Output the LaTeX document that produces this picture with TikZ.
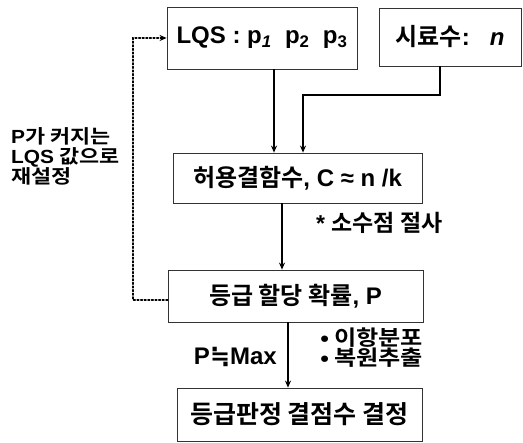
\documentclass[tikz,border=0pt]{standalone}
\usepackage{fontspec}
\setmainfont{Liberation Sans}[BoldFont={Liberation Sans Bold},BoldItalicFont={Liberation Sans Bold Italic}]
\newfontfamily\kr{Noto Sans CJK KR}[BoldFont={Noto Sans CJK KR Bold}]
\newfontfamily\krw{Noto Sans CJK KR}[BoldFont={Noto Sans CJK KR Bold},FakeStretch=1.15]
\newfontfamily\latw{Liberation Sans}[BoldFont={Liberation Sans Bold},FakeStretch=1.1]
\newfontfamily\symf{DejaVu Sans}[BoldFont={DejaVu Sans Bold}]
\usetikzlibrary{arrows.meta}
\tikzset{
  box/.style={draw=black!80, line width=0.8pt, rectangle, inner sep=0pt, font=\bfseries\fontsize{24}{26}\selectfont},
  flow/.style={line width=1.6pt, -{Stealth[length=7pt,width=6pt]}},
  loop/.style={line width=1.6pt, dotted, line cap=round, -{Stealth[length=7pt,width=6pt]}},
  note/.style={font=\bfseries\fontsize{19}{20}\selectfont, inner sep=0pt},
}
\begin{document}
\begin{tikzpicture}[x=1pt,y=-1pt]
\useasboundingbox (0,0) rectangle (523,443);
\node[box, minimum width=190pt, minimum height=62pt] (lqs) at (262,38)
  {LQS : p\textsubscript{\textit{1}}\ \ p\textsubscript{2}\ \ p\textsubscript{3}};
\node[box, minimum width=142pt, minimum height=58pt] (n) at (450,37)
  {{\kr\bfseries 시료수}:\ \ \ \textit{n}};
\node[box, minimum width=249pt, minimum height=50pt] (c) at (297.5,178)
  {{\kr\bfseries 허용결함수}, C ≈ n /k};
\node[box, minimum width=255pt, minimum height=52pt] (p) at (295.5,296)
  {{\kr\bfseries 등급 할당 확률}, P};
\node[box, minimum width=245pt, minimum height=53pt, font=\bfseries\fontsize{25}{27}\selectfont] (d) at (299.5,414.5)
  {\kr\bfseries 등급판정 결점수 결정};
% connectors
\draw[flow] (lqs.south -| 274,0) -- (c.north -| 274,0);
\coordinate (j) at (440,95);
\draw[flow] (n.south -| j) -- (j) -| (c.north -| 303,0);
\draw[flow] (c.south -| 282,0) -- (p.north -| 282,0);
\draw[flow] (p.south -| 288,0) -- (d.north -| 288,0);
\coordinate (lb) at (133,300);
\coordinate (lt) at (133,38);
\draw[loop] (p.west |- lb) -- (lb) -- (lt) -- (lqs.west |- lt);
% labels
\node[note, anchor=west, align=left] (fb) at (11,156)
  {{\latw\bfseries P}{\krw\bfseries 가 커지는}\\{\latw\bfseries LQS} {\krw\bfseries 값으로}\\{\krw\bfseries 재설정}};
\node[note, anchor=west, font=\bfseries\fontsize{23}{26}\selectfont] (trunc) at (316,223) {* {\kr\bfseries 소수점 절사}};
\node[note, anchor=east, font=\bfseries\fontsize{24}{26}\selectfont] (max) at (277,357) {P{\symf\bfseries ≒}Max};
\node[note, anchor=west, align=left, font=\bfseries\fontsize{21}{20}\selectfont] (bul) at (320,348)
  {{\krw\bfseries •}\hspace{5pt}{\krw\bfseries 이항분포}\\{\krw\bfseries •}\hspace{5pt}{\krw\bfseries 복원추출}};
\end{tikzpicture}
\end{document}
